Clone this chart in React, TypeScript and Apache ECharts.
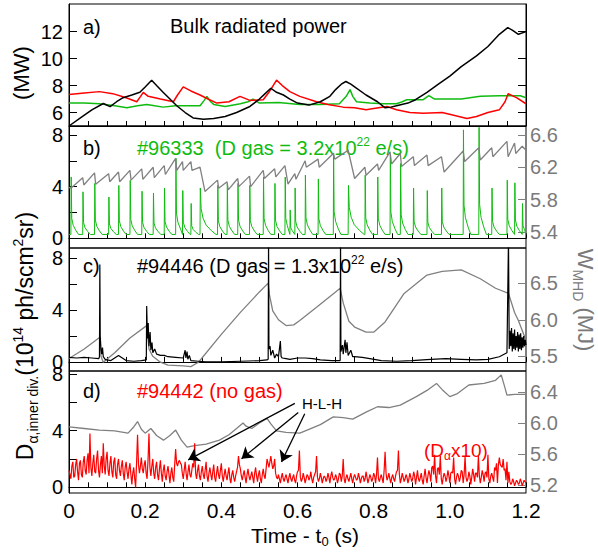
import React, { useEffect, useRef } from 'react';
import * as echarts from 'echarts';

const FONT = '"Liberation Sans", Arial, Helvetica, sans-serif';
const GREEN = '#10bb10';
const RED = '#ff0000';
const GRAY = '#808080';
const GRAY_TXT = '#7a7a7a';

// ---------- panel a: bulk radiated power (MW) ----------
const aBlack: number[][] = [[0,5.0],[0.03,5.6],[0.06,6.2],[0.09,6.67],[0.108,6.44],[0.125,6.8],[0.142,7.1],[0.165,7.3],[0.186,7.5],[0.2,7.9],[0.217,8.4],[0.23,8.0],[0.247,7.5],[0.265,7.0],[0.283,6.5],[0.305,6.0],[0.326,5.6],[0.353,5.5],[0.38,5.55],[0.41,5.7],[0.44,6.0],[0.475,6.45],[0.5,7.0],[0.515,7.4],[0.53,7.8],[0.545,7.5],[0.563,7.3],[0.58,7.0],[0.6,6.7],[0.63,6.55],[0.66,6.8],[0.685,7.2],[0.7,7.7],[0.715,8.1],[0.727,8.3],[0.74,8.1],[0.75,7.9],[0.78,7.3],[0.81,6.8],[0.83,6.35],[0.845,6.4],[0.86,6.5],[0.89,6.7],[0.91,6.95],[0.94,7.5],[0.97,8.1],[1.0,8.7],[1.03,9.4],[1.07,10.2],[1.1,10.9],[1.13,11.8],[1.152,12.3],[1.165,12.1],[1.18,11.8],[1.2,12.0]];
const aRed: number[][] = [[0,7.33],[0.04,7.45],[0.08,7.55],[0.115,7.4],[0.15,7.1],[0.178,6.8],[0.188,7.2],[0.195,7.5],[0.208,7.2],[0.24,7.0],[0.274,6.8],[0.285,7.3],[0.3,7.9],[0.32,7.6],[0.344,7.3],[0.365,7.0],[0.388,6.7],[0.42,6.8],[0.449,7.2],[0.475,6.9],[0.51,6.95],[0.525,7.5],[0.545,8.4],[0.56,8.0],[0.58,7.55],[0.606,7.2],[0.65,6.8],[0.68,6.6],[0.72,6.4],[0.75,6.35],[0.78,6.2],[0.8,6.3],[0.835,6.45],[0.86,6.2],[0.895,6.0],[0.93,5.95],[0.98,6.0],[1.01,5.8],[1.045,5.55],[1.07,5.7],[1.1,6.0],[1.13,6.2],[1.145,6.8],[1.153,7.4],[1.175,7.1],[1.2,6.65]];
const aGreen: number[][] = [[0,6.7],[0.04,6.7],[0.08,6.65],[0.12,6.5],[0.152,6.35],[0.18,6.5],[0.204,6.6],[0.225,6.5],[0.247,6.4],[0.28,6.5],[0.344,6.5],[0.355,6.9],[0.362,7.2],[0.372,6.8],[0.38,6.6],[0.41,6.45],[0.45,6.65],[0.47,6.8],[0.483,7.0],[0.5,6.7],[0.55,6.75],[0.606,6.6],[0.66,6.6],[0.71,6.65],[0.728,7.2],[0.738,7.7],[0.745,7.2],[0.755,6.8],[0.79,6.7],[0.825,6.65],[0.86,6.65],[0.875,6.8],[0.887,6.95],[0.93,6.95],[0.945,7.25],[0.96,7.0],[1.03,7.0],[1.08,7.2],[1.13,7.25],[1.185,7.25],[1.2,7.1]];

// ---------- panel b: #96333 ----------
const bSpikeTimes = [0.005,0.036,0.067,0.104,0.13,0.16,0.191,0.221,0.25,0.28,0.298,0.32,0.344,0.39,0.415,0.443,0.474,0.51,0.54,0.567,0.58,0.593,0.62,0.654,0.694,0.733,0.777,0.81,0.843,0.87,0.904,0.94,0.978,1.035,1.076,1.11,1.15,1.17,1.19];
const bSpikePeaks = [4.75,3.6,4.25,3.2,4.1,4.5,3.65,3.5,3.9,6.2,3.7,2.7,3.9,4.1,4.25,4.25,4.1,4.75,4.25,4.75,2.2,3.9,4.9,4.6,6.6,4.1,4.9,4.75,6.5,5.8,3.9,3.7,3.9,8.4,8.6,3.9,4.5,4.3,2.7];
const bLongSpikes = [0.344, 0.733];
const bBase = 0.3;
const bTail: number[][] = [[0.0008,1],[0.0022,0.28],[0.006,0.16],[0.013,0.07],[0.02,0]];
const bLongTail: number[][] = [[0.0008,1],[0.003,0.55],[0.008,0.35],[0.016,0.2],[0.03,0.08],[0.042,0]];
const bGray: number[][] = [[0,5.95],[0.005,5.94],[0.036,6.07],[0.039,5.98],[0.067,6.13],[0.07,5.99],[0.104,6.12],[0.107,6.02],[0.13,6.14],[0.133,6.02],[0.16,6.16],[0.163,6.04],[0.191,6.18],[0.194,6.05],[0.221,6.2],[0.224,6.07],[0.25,6.22],[0.253,6.11],[0.28,6.31],[0.283,6.16],[0.298,6.27],[0.3,6.16],[0.32,6.27],[0.323,6.16],[0.344,6.2],[0.357,5.9],[0.39,6.04],[0.393,5.94],[0.415,6.02],[0.418,5.92],[0.443,6.06],[0.446,5.96],[0.474,6.09],[0.477,5.96],[0.51,6.16],[0.513,6.06],[0.54,6.18],[0.543,6.08],[0.567,6.22],[0.575,5.99],[0.593,6.12],[0.596,6.05],[0.62,6.28],[0.623,6.2],[0.654,6.3],[0.657,6.2],[0.694,6.37],[0.698,6.3],[0.733,6.41],[0.75,6.06],[0.777,6.2],[0.78,6.1],[0.81,6.24],[0.813,6.16],[0.843,6.39],[0.847,6.24],[0.87,6.37],[0.873,6.21],[0.904,6.33],[0.907,6.22],[0.94,6.35],[0.943,6.22],[0.978,6.33],[0.985,6.14],[1.035,6.4],[1.039,6.27],[1.076,6.44],[1.08,6.29],[1.11,6.44],[1.113,6.33],[1.15,6.52],[1.153,6.33],[1.17,6.5],[1.173,6.37],[1.19,6.46],[1.2,6.41]];

// ---------- panel c: #94446 ----------
const cBlack: number[][] = [[0,0.35],[0.02,0.3],[0.04,0.35],[0.06,0.3],[0.078,0.25],[0.08,0.4],[0.081,7.5],[0.082,2.0],[0.084,1.0],[0.086,0.6],[0.088,1.1],[0.09,0.4],[0.095,0.2],[0.1,0.15],[0.11,0.1],[0.12,0.3],[0.13,0.5],[0.14,0.3],[0.15,0.1],[0.17,0.05],[0.19,0.1],[0.203,0.15],[0.204,4.3],[0.206,1.8],[0.208,3.0],[0.21,1.2],[0.213,2.3],[0.215,0.9],[0.218,1.5],[0.22,0.7],[0.225,1.0],[0.23,0.6],[0.24,0.5],[0.25,0.5],[0.26,0.4],[0.28,0.35],[0.3,0.3],[0.305,0.9],[0.307,0.3],[0.31,0.8],[0.312,0.2],[0.316,0.5],[0.32,0.1],[0.34,0.05],[0.36,0.0],[0.4,0.0],[0.45,0.05],[0.5,0.1],[0.52,0.15],[0.523,0.2],[0.524,9.5],[0.525,1.0],[0.528,1.2],[0.53,0.5],[0.535,0.9],[0.54,0.3],[0.545,0.6],[0.55,0.4],[0.555,1.6],[0.557,0.4],[0.56,0.3],[0.57,0.25],[0.58,0.2],[0.6,0.3],[0.62,0.3],[0.64,0.25],[0.66,0.15],[0.69,0.1],[0.712,0.1],[0.713,9.5],[0.714,0.8],[0.718,1.3],[0.72,0.6],[0.725,1.7],[0.727,0.7],[0.73,1.5],[0.733,0.5],[0.74,0.9],[0.745,0.4],[0.75,0.4],[0.77,0.35],[0.79,0.25],[0.82,0.1],[0.86,0.05],[0.9,0.1],[0.95,0.2],[0.99,0.25],[1.03,0.2],[1.07,0.15],[1.1,0.2],[1.13,0.4],[1.15,0.7],[1.154,9.5],[1.156,1.0],[1.158,2.4],[1.16,1.2],[1.162,2.6],[1.164,0.8],[1.166,2.2],[1.168,1.0],[1.17,2.5],[1.172,0.9],[1.174,2.0],[1.176,1.1],[1.178,2.3],[1.18,0.8],[1.182,2.1],[1.184,1.0],[1.186,2.2],[1.188,0.9],[1.19,1.9],[1.192,1.1],[1.194,2.0],[1.196,1.2],[1.198,1.7],[1.2,1.3]];
const cGray: number[][] = [[0,5.47],[0.04,5.6],[0.081,5.76],[0.084,5.5],[0.09,5.42],[0.12,5.55],[0.16,5.75],[0.204,5.92],[0.21,5.6],[0.22,5.5],[0.24,5.42],[0.26,5.38],[0.3,5.37],[0.32,5.36],[0.34,5.42],[0.4,5.8],[0.45,6.1],[0.5,6.38],[0.523,6.5],[0.526,6.35],[0.535,6.12],[0.55,6.0],[0.57,5.92],[0.59,5.93],[0.606,5.99],[0.65,6.17],[0.7,6.38],[0.712,6.43],[0.72,6.23],[0.735,5.98],[0.75,5.9],[0.78,5.83],[0.8,5.83],[0.83,5.97],[0.88,6.36],[0.94,6.61],[0.98,6.66],[1.03,6.68],[1.08,6.56],[1.12,6.43],[1.154,6.36],[1.17,6.1],[1.18,5.99],[1.2,5.72]];

// ---------- panel d: #94442 (no gas), Dalpha x10 sampled every 5 ms ----------
const dStep = 0.005;
const dRed = [1.2,0.6,1.8,0.8,2.0,0.5,1.9,0.7,2.2,0.9,2.4,3.8,0.8,2.3,1.0,2.6,0.7,2.2,3.1,0.9,2.5,0.8,2.2,0.7,2.1,0.6,2.0,0.8,1.9,0.5,1.8,0.6,1.7,0.2,1.4,0.0,3.7,1.0,2.1,1.0,1.9,0.6,3.8,0.8,2.0,0.6,1.8,0.5,1.9,0.4,1.6,0.5,1.5,0.3,1.4,0.4,2.7,1.5,1.9,1.6,0.6,1.8,0.5,1.6,0.7,1.7,3.1,0.6,1.6,0.5,1.5,0.6,1.8,0.4,1.4,0.5,1.6,0.4,1.5,0.6,1.7,0.4,1.3,0.5,1.4,0.3,1.2,0.4,1.1,2.2,1.3,0.5,1.2,0.3,1.3,0.5,1.1,0.3,1.4,0.4,1.2,0.3,1.3,0.6,2.0,1.4,2.2,1.3,2.0,0.7,0.9,0.3,1.0,0.4,0.9,0.3,1.0,0.4,0.9,0.3,1.1,2.6,0.4,1.0,0.3,0.9,0.5,1.1,0.3,0.9,2.2,0.4,1.0,0.3,0.8,0.4,1.0,0.3,1.1,0.5,0.9,0.3,1.0,0.4,2.0,0.3,0.9,0.4,1.0,0.3,0.9,0.5,1.0,0.3,0.8,0.4,1.1,0.3,0.9,0.4,1.0,0.3,2.1,0.4,0.9,0.3,2.5,0.5,1.0,0.3,0.9,0.4,1.1,2.6,0.3,1.0,0.4,0.9,0.3,1.0,0.4,1.1,0.2,1.2,0.4,1.0,0.2,1.3,0.3,1.2,0.4,1.5,2.3,0.3,1.4,2.2,0.2,1.0,0.4,1.2,0.3,1.1,2.1,0.2,1.0,0.4,1.2,0.3,2.2,0.4,1.1,0.2,1.3,0.4,1.0,2.2,0.3,1.2,0.4,1.1,2.3,0.3,1.0,0.4,1.2,0.3,2.1,1.5,2.0,1.3,1.8,1.1,0.2,0.6,0.1,0.5,0.2,0.6,0.1,0.5,0.3];
// in-between samples (t = i*5 ms + 2.5 ms)
const dRedMid = [0.9,1.5,0.7,1.6,1.1,1.7,0.9,1.8,1.2,1.9,1.0,1.4,1.7,1.1,2.0,1.2,1.6,1.0,1.5,2.0,1.2,1.7,1.1,1.8,0.9,1.6,1.2,1.5,1.0,1.4,1.1,1.3,0.9,1.0,0.6,1.8,1.6,1.5,1.3,1.6,1.0,1.9,1.4,1.5,1.0,1.4,0.9,1.3,1.0,1.2,0.8,1.1,0.9,1.0,0.7,1.6,1.7,1.8,1.7,1.0,1.2,1.0,1.1,0.9,1.2,1.4,1.0,1.2,0.8,1.1,0.9,1.2,0.8,1.0,0.9,1.1,0.7,1.0,0.9,1.2,0.8,0.9,0.8,1.0,0.6,0.9,0.7,0.8,1.4,1.6,0.8,0.9,0.7,0.9,0.8,0.8,0.7,1.0,0.8,0.9,0.6,0.9,0.8,1.3,1.7,1.8,1.7,1.5,1.0,0.6,0.6,0.7,0.6,0.7,0.6,0.7,0.6,0.7,0.5,0.8,1.2,0.7,0.6,0.7,0.6,0.8,0.7,0.6,0.7,1.1,0.7,0.6,0.7,0.6,0.7,0.6,0.7,0.8,0.7,0.6,0.7,0.6,0.9,0.8,0.6,0.7,0.6,0.7,0.6,0.7,0.7,0.6,0.7,0.6,0.8,0.6,0.7,0.6,0.7,0.6,0.8,0.9,0.6,0.7,0.6,1.2,1.0,0.7,0.6,0.7,0.6,0.8,1.2,0.9,0.6,0.7,0.6,0.7,0.6,0.7,0.6,0.8,0.7,0.6,0.7,0.5,0.8,0.7,0.8,0.9,1.4,0.9,0.8,1.3,0.9,0.6,0.7,0.8,0.7,0.8,1.0,1.0,0.6,0.7,0.8,0.7,1.1,0.9,0.7,0.6,0.8,0.7,0.9,1.0,0.7,0.8,0.7,0.9,1.0,0.7,0.6,0.8,0.7,1.4,1.7,1.6,1.6,1.4,1.2,0.5,0.3,0.4,0.3,0.4,0.3,0.4,0.3,0.4];
const dGray: number[][] = [[0,5.95],[0.04,5.93],[0.08,5.91],[0.12,5.9],[0.155,5.87],[0.17,5.95],[0.18,6.02],[0.19,5.92],[0.2,5.87],[0.215,5.93],[0.23,5.84],[0.248,5.78],[0.265,5.84],[0.28,5.91],[0.295,5.78],[0.31,5.69],[0.33,5.71],[0.36,5.73],[0.395,5.78],[0.42,5.85],[0.44,5.93],[0.457,6.0],[0.465,5.96],[0.48,5.93],[0.5,6.0],[0.52,6.06],[0.53,5.99],[0.545,5.9],[0.57,5.88],[0.606,5.87],[0.63,5.92],[0.66,5.98],[0.694,6.08],[0.72,6.07],[0.745,6.05],[0.78,6.14],[0.81,6.21],[0.84,6.2],[0.87,6.23],[0.912,6.34],[0.94,6.42],[0.965,6.51],[0.98,6.43],[1.0,6.34],[1.02,6.38],[1.05,6.49],[1.09,6.51],[1.12,6.55],[1.135,6.62],[1.145,6.45],[1.15,6.36],[1.17,6.37],[1.2,6.37]];
// H-L-H arrows (data coords of panel d, left axis)
const arrows: number[][][] = [[[0.593,5.92],[0.313,1.94]],[[0.602,5.28],[0.453,2.01]],[[0.619,5.19],[0.558,1.78]]];

// axis tick/label values
const xMin = 0, xMax = 1.2, xMinor = 0.05;
const aTicks = [6, 8, 10, 12];
const leftTicks = [0, 2, 4, 6, 8];
const leftLabels = [0, 4, 8];
const bRightTicks = [5.4, 5.8, 6.2, 6.6];
const cRightTicks = [5.5, 6.0, 6.5];
const dRightTicks = [5.2, 5.6, 6.0, 6.4];

function buildSpikes(): number[][] {
  const out: number[][] = [[0, bBase]];
  for (let i = 0; i < bSpikeTimes.length; i++) {
    const t = bSpikeTimes[i];
    const p = bSpikePeaks[i];
    const next = i + 1 < bSpikeTimes.length ? bSpikeTimes[i + 1] : xMax + 1;
    const tail = bLongSpikes.includes(t) ? bLongTail : bTail;
    out.push([t, bBase]);
    for (const [dt, f] of tail) {
      if (t + dt < next - 0.0015) out.push([t + dt, bBase + f * (p - bBase)]);
    }
  }
  out.push([xMax, bBase]);
  return out.filter((d) => d[0] <= xMax);
}

function buildRed(): number[][] {
  const out: number[][] = [];
  for (let i = 0; i < dRed.length; i++) {
    out.push([+(i * dStep).toFixed(4), dRed[i]]);
    if (i < dRedMid.length && i < dRed.length - 1) out.push([+(i * dStep + dStep / 2).toFixed(4), dRedMid[i]]);
  }
  return out;
}

const grids = [
  { top: 4, height: 122 },
  { top: 126, height: 122 },
  { top: 248, height: 123 },
  { top: 371, height: 122 },
];

function xAxis(i: number) {
  return {
    type: 'value', gridIndex: i, min: xMin, max: xMax, interval: xMinor,
    axisLine: { show: true, lineStyle: { color: '#000', width: 1 } },
    axisTick: { show: true, inside: true, length: 5, lineStyle: { color: '#000' } },
    splitLine: { show: false },
    axisLabel: {
      show: i === 3, margin: 7, fontSize: 21, color: '#000', fontFamily: FONT,
      formatter: (v: number) => {
        const k = v / 0.2;
        if (Math.abs(k - Math.round(k)) > 1e-6) return '';
        return Math.abs(v) < 1e-9 ? '0' : v.toFixed(1);
      },
    },
  };
}

function yAxis(i: number, side: 'left' | 'right', min: number, max: number, ticks: number[], labels: number[] | null, color: string, digits: number) {
  return {
    type: 'value', gridIndex: i, position: side, min, max,
    axisLine: { show: true, lineStyle: { color, width: 1 } },
    axisTick: { show: true, inside: true, length: 8, customValues: ticks, lineStyle: { color } },
    splitLine: { show: false },
    axisLabel: {
      show: !!labels, customValues: labels || [], margin: side === 'left' ? 6 : 4,
      fontSize: 20, fontFamily: FONT, color: side === 'left' ? '#000' : GRAY_TXT,
      formatter: (v: number) => (digits ? v.toFixed(digits) : String(v)),
    },
  };
}

function line(data: number[][], x: number, y: number, color: string, width: number) {
  return {
    type: 'line', xAxisIndex: x, yAxisIndex: y, data, showSymbol: false, symbol: 'none',
    lineStyle: { color, width }, silent: true, clip: true,
  };
}

const T = (x: number, y: number, text: string, fill: string, size: number, extra: any = {}) => ({
  type: 'text', x, y,
  style: {
    text, fill, fontSize: size, fontFamily: FONT, verticalAlign: 'middle', align: 'left',
    rich: {
      sup: { fontSize: Math.round(size * 0.62), lineHeight: Math.round(size * 0.62), verticalAlign: 'top', fill, fontFamily: FONT },
      sub: { fontSize: Math.round(size * 0.62), lineHeight: Math.round(size * 0.62), verticalAlign: 'bottom', fill, fontFamily: FONT },
      m: { fontSize: size, lineHeight: Math.round(size * 1.25), fill, fontFamily: FONT },
    },
    ...extra.style,
  },
  ...extra.el,
});

export default function App() {
  const ref = useRef<HTMLDivElement>(null);
  useEffect(() => {
    const chart = echarts.init(ref.current!, null, { renderer: 'svg' });
    const option: any = {
      animation: false,
      backgroundColor: '#fff',
      grid: grids.map((g) => ({ left: 69, right: 72, top: g.top, height: g.height, show: true, borderColor: '#000', borderWidth: 1, backgroundColor: 'transparent' })),
      xAxis: [0, 1, 2, 3].map(xAxis),
      yAxis: [
        yAxis(0, 'left', 5, 14.05, aTicks, aTicks, '#000', 0),
        yAxis(0, 'right', 5, 14.05, aTicks, null, '#000', 0),
        yAxis(1, 'left', -0.75, 8.7, leftTicks, leftLabels, '#000', 0),
        yAxis(1, 'right', 5.2, 6.71, bRightTicks, bRightTicks, GRAY, 1),
        yAxis(2, 'left', -0.7, 8.77, leftTicks, leftLabels, '#000', 0),
        yAxis(2, 'right', 5.3, 6.98, cRightTicks, cRightTicks, GRAY, 1),
        yAxis(3, 'left', -0.4, 8.2, leftTicks, leftLabels, '#000', 0),
        yAxis(3, 'right', 5.1, 6.67, dRightTicks, dRightTicks, GRAY, 1),
      ],
      series: [
        line(aGreen, 0, 0, GREEN, 1.5),
        line(aRed, 0, 0, RED, 1.5),
        line(aBlack, 0, 0, '#000', 1.5),
        line(buildSpikes(), 1, 2, GREEN, 1),
        line(bGray, 1, 3, GRAY, 1.3),
        line(cGray, 2, 5, GRAY, 1.3),
        line(cBlack, 2, 4, '#000', 1.2),
        line(dGray, 3, 7, GRAY, 1.3),
        line(buildRed(), 3, 6, RED, 1.2),
        {
          type: 'lines', coordinateSystem: 'cartesian2d', xAxisIndex: 3, yAxisIndex: 6,
          data: arrows.map((c) => ({ coords: c })),
          symbol: ['none', 'arrow'], symbolSize: [7, 11],
          lineStyle: { color: '#000', width: 1.3, opacity: 1 }, silent: true, z: 5,
        },
      ],
      graphic: [
        T(83, 27, 'a)', '#000', 20),
        T(170, 26, 'Bulk radiated power', '#000', 20),
        T(83, 148, 'b)', '#000', 20),
        T(137, 148, '{m|#96333  (D gas = 3.2x10}{sup|22}{m| e/s)}', GREEN, 20),
        T(83, 266, 'c)', '#000', 20),
        T(137, 266, '{m|#94446 (D gas = 1.3x10}{sup|22}{m| e/s)}', '#000', 20),
        T(83, 391, 'd)', '#000', 20),
        T(137, 391, '#94442 (no gas)', RED, 20),
        T(302, 403, 'H-L-H', '#000', 15),
        T(424, 450, '{m|(D}{sub|α}{m|x10)}', RED, 19),
        T(305, 535, '{m|Time - t}{sub|0}{m| (s)}', '#000', 21, { style: { align: 'center' } }),
        T(21, 73, '(MW)', '#000', 22, { style: { align: 'center' }, el: { rotation: Math.PI / 2 } }),
        T(25, 336, '{m|D}{sub|α,inner div.}{m|(10}{sup|14}{m| ph/scm}{sup|2}{m|sr)}', '#000', 23, { style: { align: 'center' }, el: { rotation: Math.PI / 2 } }),
        T(585, 300, '{m|W}{sub|MHD}{m| (MJ)}', GRAY_TXT, 22, { style: { align: 'center' }, el: { rotation: -Math.PI / 2 } }),
      ],
    };
    chart.setOption(option);
    return () => chart.dispose();
  }, []);
  return <div ref={ref} style={{ position: 'fixed', left: 0, top: 0, width: 598, height: 553 }} />;
}
